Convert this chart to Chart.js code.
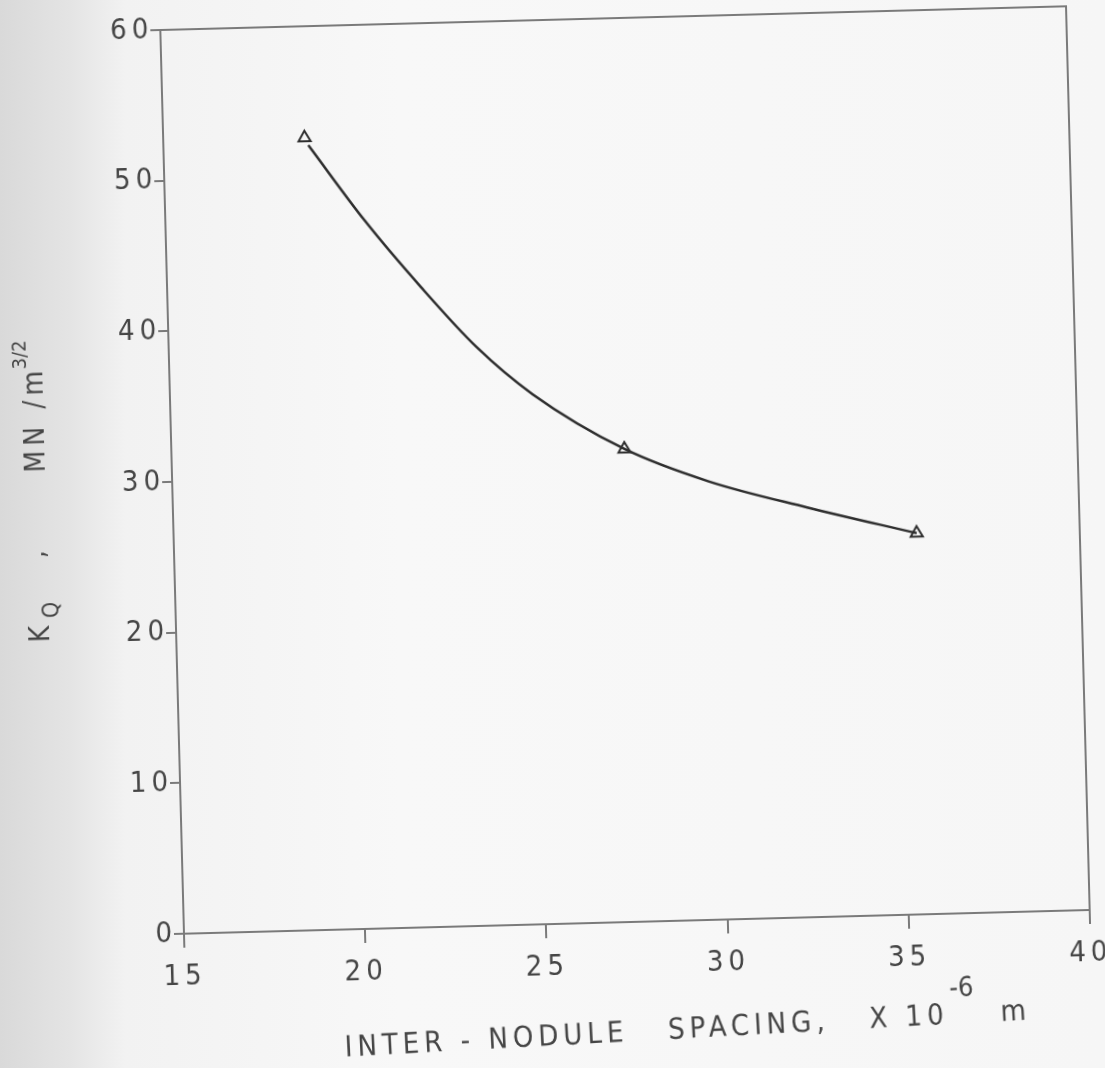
<!DOCTYPE html>
<html>
<head>
<meta charset="utf-8">
<script src="https://cdn.jsdelivr.net/npm/chart.js@4.4.1/dist/chart.umd.min.js"></script>
<style>
	html, body { margin: 0; padding: 0; }
	body {
		width: 1105px; height: 1068px; overflow: hidden;
		background: linear-gradient(to right, #d9d9d9 0px, #e4e4e4 70px, #f2f2f2 125px, #f8f8f8 400px, #f6f6f6 100%);
	}
	#wrap {
		position: absolute; left: 0; top: 0; width: 1105px; height: 1068px;
		/* the scan is slightly tilted */
		transform-origin: 625px 470px;
		transform: rotate(-1.5deg);
	}
</style>
</head>
<body>
<div id="wrap"><canvas id="kqChart" width="1105" height="1068"></canvas></div>
<script>
// measured triangles
const pointX = [18.9, 27.5, 35.5];
const pointY = [52.6, 31.4, 25.3];

// hand drawn curve
const curveX = [19.0, 20.5, 22.0, 23.5, 25.0, 27.5, 29.8, 32.5, 35.5];
const curveY = [52.1, 47.0, 42.5, 38.4, 35.2, 31.4, 29.1, 27.2, 25.3];

const xTicks = [15, 20, 25, 30, 35, 40];
const yTicks = [0, 10, 20, 30, 40, 50, 60];

const inkColor = '#2e2e2e';
const textColor = '#454545';
const axisColor = '#7a7a7a';
const fontFamily = "'DejaVu Sans Condensed', 'DejaVu Sans', sans-serif";

let curveData = [];
for (let i = 0; i < curveX.length; i++) {
	curveData.push({x: curveX[i], y: curveY[i]});
}
let pointData = [];
for (let i = 0; i < pointX.length; i++) {
	pointData.push({x: pointX[i], y: pointY[i]});
}

// frame + axis titles with sub/superscripts
const titlesPlugin = {
	id: 'titles',
	// lettering in the scan is widely spaced (canvas resize resets the state, so set it late)
	beforeUpdate(chart) {
		chart.ctx.letterSpacing = '5px';
	},
	beforeDraw(chart) {
		chart.ctx.letterSpacing = '5px';
	},
	afterDraw(chart) {
		const ctx = chart.ctx;
		const area = chart.chartArea;
		ctx.save();
		ctx.strokeStyle = axisColor;
		ctx.lineWidth = 2;
		ctx.strokeRect(area.left, area.top, area.right - area.left, area.bottom - area.top);

		ctx.fillStyle = textColor;
		ctx.textBaseline = 'alphabetic';

		// y title, reads bottom to top
		ctx.save();
		ctx.translate(45, 627);
		ctx.rotate(-Math.PI / 2);
		ctx.letterSpacing = '3px';
		ctx.font = '28px ' + fontFamily;
		ctx.fillText('K', 0, 0);
		ctx.font = '23px ' + fontFamily;
		ctx.fillText('Q', 24, 10);
		ctx.font = '28px ' + fontFamily;
		ctx.fillText(',', 84, -2);
		ctx.letterSpacing = '5px';
		let x = 170;
		ctx.fillText('MN /m', x, 0);
		x += ctx.measureText('MN /m').width - 3;
		ctx.font = '20px ' + fontFamily;
		ctx.letterSpacing = '0px';
		ctx.fillText('3/2', x, -16);
		ctx.restore();

		// x title, a little more tilted than the frame
		ctx.save();
		ctx.translate(330, 1049);
		ctx.rotate(-1.6 * Math.PI / 180);
		let part1 = 'INTER - NODULE   SPACING,   X 10';
		ctx.letterSpacing = '5px';
		ctx.font = '29px ' + fontFamily;
		let w1 = ctx.measureText(part1).width;
		ctx.fillText(part1, 0, 0);
		ctx.font = '27px ' + fontFamily;
		ctx.letterSpacing = '0px';
		ctx.fillText('-6', w1 + 2, -27);
		ctx.font = '29px ' + fontFamily;
		ctx.fillText('m', w1 + 52, 0);
		ctx.restore();
		ctx.restore();
	}
};

const config = {
	data: {
		datasets: [{
			type: 'line',
			label: 'curve',
			data: curveData,
			borderColor: inkColor,
			borderWidth: 2.5,
			pointRadius: 0,
			cubicInterpolationMode: 'monotone',
			fill: false
		}, {
			type: 'line',
			label: 'KQ',
			data: pointData,
			showLine: false,
			pointStyle: 'triangle',
			pointRadius: 7,
			pointBorderWidth: 2,
			pointBorderColor: inkColor,
			pointBackgroundColor: 'rgba(0,0,0,0)'
		}]
	},
	options: {
		responsive: false,
		animation: false,
		layout: {
			padding: {top: 18, right: 27, left: 0, bottom: 0}
		},
		scales: {
			x: {
				type: 'linear',
				position: 'bottom',
				min: 15,
				max: 40,
				afterBuildTicks: (scale) => { scale.ticks = xTicks.map(v => ({value: v})); },
				afterFit: (scale) => {
					scale.height = 146;
					scale.paddingLeft = 0;
					scale.paddingRight = 20;
				},
				border: {display: true, color: axisColor, width: 2},
				grid: {drawOnChartArea: false, color: axisColor, tickLength: 14, lineWidth: 2},
				ticks: {color: textColor, padding: 12, maxRotation: 0, font: {family: fontFamily, size: 29}}
			},
			y: {
				type: 'linear',
				position: 'left',
				min: 0,
				max: 60,
				afterBuildTicks: (scale) => { scale.ticks = yTicks.map(v => ({value: v})); },
				afterFit: (scale) => { scale.width = 172; },
				border: {display: true, color: axisColor, width: 2},
				grid: {drawOnChartArea: false, color: axisColor, tickLength: 10, lineWidth: 2},
				ticks: {color: textColor, padding: -3, font: {family: fontFamily, size: 29}}
			}
		},
		plugins: {
			legend: {display: false},
			tooltip: {enabled: false},
			title: {display: false}
		}
	},
	plugins: [titlesPlugin]
};

const chartKQ = new Chart(document.getElementById('kqChart'), config);
</script>
</body>
</html>
